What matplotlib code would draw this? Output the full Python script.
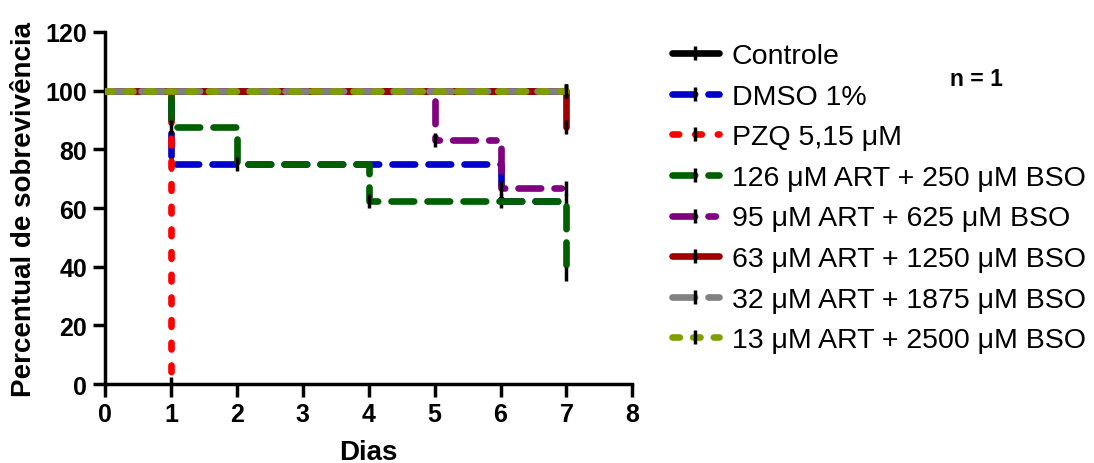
import matplotlib
matplotlib.use("Agg")
import matplotlib.pyplot as plt

plt.rcParams['font.family'] = ['Liberation Sans', 'DejaVu Sans']

labels = ["Controle", "DMSO 1%", "PZQ 5,15 μM", "126 μM ART + 250 μM BSO",
          "95 μM ART + 625 μM BSO", "63 μM ART + 1250 μM BSO",
          "32 μM ART + 1875 μM BSO", "13 μM ART + 2500 μM BSO"]

# step curves: days and survival (%)
days = [
    [0, 7],
    [0, 1, 6, 7],
    [0, 1],
    [0, 1, 2, 4, 7],
    [0, 5, 6, 7],
    [0, 7],
    [0, 7],
    [0, 7],
]
surv = [
    [100, 100],
    [100, 75, 62.5, 62.5],
    [100, 0],
    [100, 87.5, 75, 62.5, 37.5],
    [100, 83.3, 66.7, 66.7],
    [100, 87.5],
    [100, 100],
    [100, 100],
]
# censored points (black ticks)
cens_x = [[7], [1, 6, 7], [1], [1, 2, 4, 7], [5, 6, 7], [7], [7], [7]]
cens_y = [[100], [75, 62.5, 62.5], [0], [87.5, 75, 62.5, 37.5], [83.3, 66.7, 66.7], [87.5], [100], [100]]

colors = ["black", "#0000CC", "#FF0000", "#006000", "#800080", "#A00000", "#808080", "#7F9F00"]
styles = ["-", (0, (3.4, 2.0)), (0, (1.0, 2.4)), (0, (3.4, 2.0)), (0, (3.4, 2.0, 1.1, 2.0)),
          "-", (0, (3.4, 2.0)), (0, (1.1, 2.0))]

fig = plt.figure(figsize=(10.94, 4.64), dpi=100)
ax = fig.add_axes([0.096, 0.17, 0.482, 0.759])

handles = []
for i in range(len(labels)):
    ln, = ax.step(days[i], surv[i], where='post', color=colors[i], linestyle=styles[i],
                  lw=4.8, solid_capstyle='round', dash_capstyle='round', zorder=2 + i)
    mk, = ax.plot(cens_x[i], cens_y[i], linestyle='none', marker='|', color='black',
                  markersize=10, markeredgewidth=2.5, zorder=2 + i)
    handles.append((ln, mk))

ax.set_xlim(0, 8)
ax.set_ylim(0, 120)
ax.set_xticks(range(0, 9))
ax.set_yticks(range(0, 121, 20))
for s in ["top", "right"]:
    ax.spines[s].set_visible(False)
for s in ["left", "bottom"]:
    ax.spines[s].set_linewidth(2.5)
ax.tick_params(direction='out', width=2.5, length=9, labelsize=18, pad=4)
for t in ax.get_xticklabels() + ax.get_yticklabels():
    t.set_fontweight('bold')
ax.set_xlabel("Dias", fontsize=20, fontweight='bold', labelpad=9)
ax.set_ylabel("Percentual de sobrevivência", fontsize=20, fontweight='bold', labelpad=6)

leg = ax.legend(handles, labels, loc='upper left', bbox_to_anchor=(0.601, 0.935),
                bbox_transform=fig.transFigure, frameon=False, fontsize=20.5,
                handlelength=1.65, handletextpad=0.45, labelspacing=0.51, borderpad=0)
fig.text(0.868, 0.815, "n = 1", fontsize=16.5, fontweight='bold')

fig.savefig("out.png", dpi=100)
